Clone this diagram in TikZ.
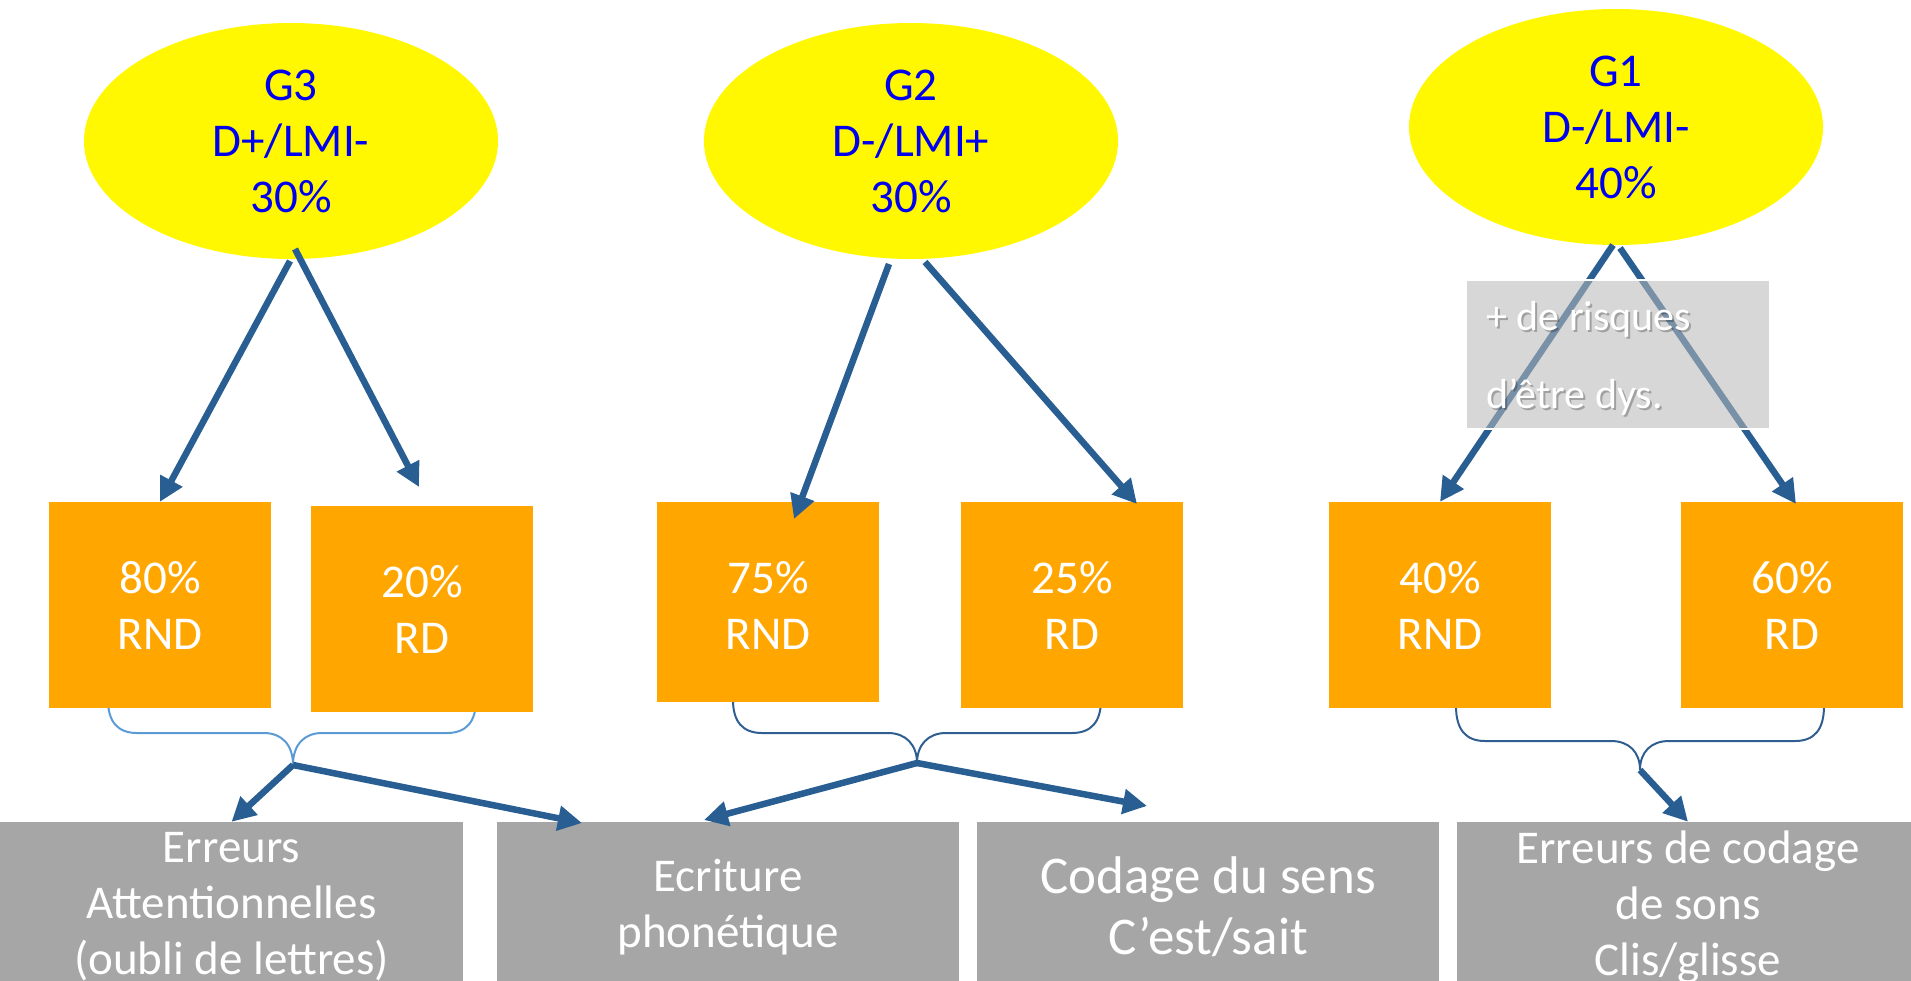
\documentclass[tikz,border=0pt]{standalone}
\usepackage{fontspec}
\setmainfont{Carlito}
\usetikzlibrary{arrows.meta,shapes.geometric}
\definecolor{ellfill}{HTML}{FFF800}
\definecolor{elltext}{HTML}{0000F0}
\definecolor{orng}{HTML}{FFA700}
\definecolor{grayb}{HTML}{A6A6A6}
\definecolor{arrc}{HTML}{285E92}
\definecolor{bracelight}{HTML}{5B9BD5}
\definecolor{bracedark}{HTML}{2F5E91}
\definecolor{notefill}{RGB}{184,184,184}
\begin{document}
\begin{tikzpicture}[x=1pt,y=-1pt,
  gen/.style={font=\fontsize{47}{56}\selectfont, align=center},
  ebox/.style={ellipse, fill=ellfill, text=elltext, minimum width=414pt, minimum height=236pt, inner sep=0pt, gen},
  obox/.style={rectangle, fill=orng, text=white, minimum width=222pt, inner sep=0pt, gen},
  gbox/.style={rectangle, fill=grayb, text=white, minimum height=170pt, inner sep=0pt, gen},
  arr/.style={draw=arrc, line width=6.5pt, -{Triangle[length=24pt,width=24pt]}},
  bracel/.style={draw=bracelight, line width=2pt},
  braced/.style={draw=bracedark, line width=2pt},
  notetext/.style={text=white, font=\fontsize{42}{50}\selectfont, inner sep=0pt, anchor=base west},
  noteshadow/.style={text=black, opacity=0.25, font=\fontsize{42}{50}\selectfont, inner sep=0pt, anchor=base west}
]
\useasboundingbox (0,0) rectangle (1911,980);
\clip (0,0) rectangle (1911,980);

% ellipses
\node[ebox] (g3) at (291,141) {G3\\D+/LMI-\\30\%};
\node[ebox] (g2) at (911,141) {G2\\D-/LMI+\\30\%};
\node[ebox] (g1) at (1616,127) {G1\\D-/LMI-\\40\%};

% braces (drawn under boxes)
\coordinate (bt3) at (293,765);
\coordinate (bt2) at (917,763);
\coordinate (bt1) at (1640,770);
\draw[bracel] (108,700) .. controls (108,722) and (118,733) .. (137,733) -- (264,733) .. controls (282,733) and (293,745) .. (bt3);
\draw[bracel] (476,700) .. controls (476,722) and (466,733) .. (447,733) -- (322,733) .. controls (304,733) and (293,745) .. (bt3);
\draw[braced] (733,700) .. controls (733,722) and (743,733) .. (762,733) -- (888,733) .. controls (906,733) and (917,745) .. (bt2);
\draw[braced] (1101,700) .. controls (1101,722) and (1091,733) .. (1072,733) -- (946,733) .. controls (928,733) and (917,745) .. (bt2);
\draw[braced] (1456,706) .. controls (1456,730) and (1466,741) .. (1485,741) -- (1611,741) .. controls (1629,741) and (1640,752) .. (bt1);
\draw[braced] (1824,706) .. controls (1824,730) and (1814,741) .. (1795,741) -- (1669,741) .. controls (1651,741) and (1640,752) .. (bt1);

% orange boxes
\node[obox, minimum height=206pt] (o1) at (160,605) {80\%\\RND};
\node[obox, minimum height=206pt] (o2) at (422,609) {20\%\\RD};
\node[obox, minimum height=200pt] (o3) at (768,602) {};
\node[text=white, gen, inner sep=0pt] (o3t) at (768,605) {75\%\\RND};
\node[obox, minimum height=206pt] (o4) at (1072,605) {25\%\\RD};
\node[obox, minimum height=206pt] (o5) at (1440,605) {40\%\\RND};
\node[obox, minimum height=206pt] (o6) at (1792,605) {60\%\\RD};

% gray boxes
\node[gbox, minimum width=463pt] (e1) at (231.5,907) {Erreurs\\Attentionnelles\\(oubli de lettres)};
\node[gbox, minimum width=462pt] (e2) at (728,907) {Ecriture\\phonétique};
\node[gbox, minimum width=462pt, font=\fontsize{53}{61}\selectfont] (e3) at (1208,907) {Codage du sens\\C’est/sait};
\node[gbox, minimum width=462pt] (e4) at (1688,907) {Erreurs de codage\\de sons\\Clis/glisse};

% arrow start / end points
\coordinate (g3a) at (290,261);
\coordinate (g3b) at (295,249);
\coordinate (g2a) at (889,264);
\coordinate (g2b) at (925,262);
\coordinate (g1a) at (1613,245);
\coordinate (g1b) at (1620,248);
\coordinate (t2) at (419,487);
\coordinate (t3) at (794,519);
\coordinate (t4) at (1137,504);
\coordinate (t6) at (1796,504);
\coordinate (u1) at (704,820);
\coordinate (u2) at (582,823);
\coordinate (u3) at (1147,806);

\draw[arr] (g3a) -- (o1.north);
\draw[arr] (g3b) -- (t2);
\draw[arr] (g2a) -- (t3);
\draw[arr] (g2b) -- (t4);
\draw[arr] (g1a) -- (o5.north);
\draw[arr] (g1b) -- (t6);

\draw[arr] (bt3) -- (e1.north);
\draw[arr] (bt3) -- (u2);
\draw[arr] (bt2) -- (u1);
\draw[arr] (bt2) -- (u3);
\draw[arr] (bt1) -- (e4.north);

% note box
\node[draw=white, line width=2pt, fill=notefill, fill opacity=0.57, minimum width=304pt, minimum height=149pt, inner sep=0pt] (note) at (1618,354.5) {};
\node[noteshadow] (n1s) at (1488,332) {+ de risques};
\node[noteshadow] (n2s) at (1488,410) {d’être dys.};
\node[notetext] (n1) at (1486,330) {+ de risques};
\node[notetext] (n2) at (1486,408) {d’être dys.};
\end{tikzpicture}
\end{document}
